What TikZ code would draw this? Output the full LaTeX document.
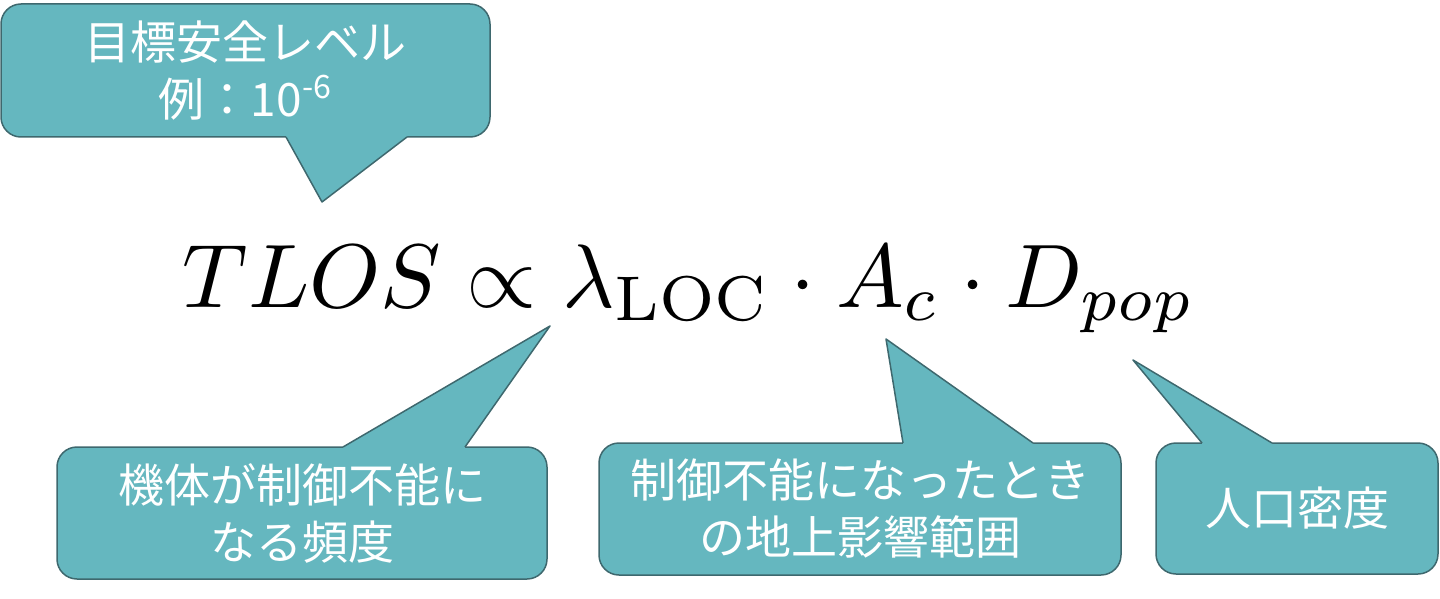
\documentclass[tikz,border=0pt]{standalone}
\usepackage{fontspec}
\usepackage{graphicx}
\newfontfamily\jp{Noto Sans CJK JP}
\definecolor{calloutfill}{RGB}{101,183,191}
\definecolor{calloutline}{RGB}{62,104,110}
\tikzset{
  callbox/.style={fill=calloutfill, draw=calloutline, line width=0.75pt, rounded corners=10pt},
  callfill/.style={fill=calloutfill},
  callline/.style={draw=calloutline, line width=0.75pt, line join=round},
  calltext/.style={font=\jp\fontsize{23}{28.5}\selectfont, text=white, align=center, inner sep=0pt},
}
\begin{document}
\begin{tikzpicture}[x=0.5pt, y=-0.5pt]
\useasboundingbox (0,0) rectangle (1440,599);

% equation
\node[anchor=base, inner sep=0pt] (eq) at (689,307)
  {\resizebox{506pt}{!}{$TLOS \propto \lambda_{\mathrm{LOC}} \cdot A_c \cdot D_{pop}$}};

% callout 1: target safety level
\draw[callbox] (1,4) rectangle (490,137);
\coordinate (t1) at (322,202);
\fill[callfill] (286,134) -- (286,137) -- (t1) -- (407,137) -- (407,134) -- cycle;
\draw[callline] (286,137) -- (t1) -- (407,137);
\node[calltext] (c1) at (245.5,70.5) {目標安全レベル\\例：10\textsuperscript{-6}};

% callout 2: loss-of-control frequency
\draw[callbox] (57,447) rectangle (547,579);
\coordinate (t2) at (550,326);
\fill[callfill] (343,450) -- (343,447) -- (t2) -- (465,447) -- (465,450) -- cycle;
\draw[callline] (343,447) -- (t2) -- (465,447);
\node[calltext] (c2) at (302,513) {機体が制御不能に\\なる頻度};

% callout 3: ground impact area
\draw[callbox] (599,443) rectangle (1121,575);
\coordinate (t3) at (886,339);
\fill[callfill] (903,446) -- (903,443) -- (t3) -- (1033,443) -- (1033,446) -- cycle;
\draw[callline] (903,443) -- (t3) -- (1033,443);
\node[calltext] (c3) at (860,509) {制御不能になったとき\\の地上影響範囲};

% callout 4: population density
\draw[callbox] (1156,443) rectangle (1438,574);
\coordinate (t4) at (1133,360);
\fill[callfill] (1202,446) -- (1202,443) -- (t4) -- (1272,443) -- (1272,446) -- cycle;
\draw[callline] (1202,443) -- (t4) -- (1272,443);
\node[calltext] (c4) at (1297,508.5) {人口密度};
\end{tikzpicture}
\end{document}
